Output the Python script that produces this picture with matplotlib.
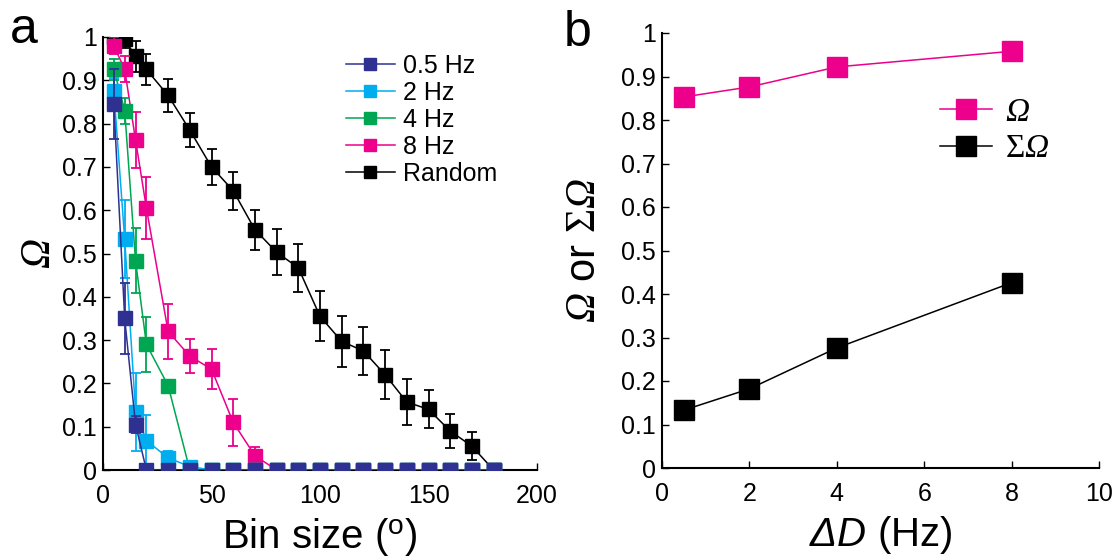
import numpy as np
import matplotlib
matplotlib.use("Agg")
import matplotlib.pyplot as plt
from matplotlib.lines import Line2D

plt.rcParams["font.family"] = ["Liberation Sans", "DejaVu Sans"]
plt.rcParams["mathtext.fontset"] = "custom"
plt.rcParams["mathtext.rm"] = "Liberation Serif:italic"
plt.rcParams["mathtext.it"] = "Liberation Serif:italic"
plt.rcParams["mathtext.sf"] = "Liberation Serif"
plt.rcParams["mathtext.bf"] = "Liberation Sans"
plt.rcParams["mathtext.tt"] = "Liberation Sans:italic"

# panel a data
bins = [5, 10, 15, 20, 30, 40, 50, 60, 70, 80, 90, 100, 110, 120, 130, 140, 150, 160, 170, 180]
omega_05 = [0.845, 0.35, 0.105, 0, 0, 0, 0, 0, 0, 0, 0, 0, 0, 0, 0, 0, 0, 0, 0, 0]
err_05 = [0.08, 0.082, 0.02, 0, 0, 0, 0, 0, 0, 0, 0, 0, 0, 0, 0, 0, 0, 0, 0, 0]
omega_2 = [0.875, 0.533, 0.135, 0.068, 0.028, 0.008, 0, 0, 0, 0, 0, 0, 0, 0, 0, 0, 0, 0, 0, 0]
err_2 = [0.03, 0.09, 0.09, 0.06, 0.015, 0, 0, 0, 0, 0, 0, 0, 0, 0, 0, 0, 0, 0, 0, 0]
omega_4 = [0.925, 0.83, 0.483, 0.29, 0.195, 0, 0, 0, 0, 0, 0, 0, 0, 0, 0, 0, 0, 0, 0, 0]
err_4 = [0.025, 0.03, 0.075, 0.063, 0, 0, 0, 0, 0, 0, 0, 0, 0, 0, 0, 0, 0, 0, 0, 0]
omega_8 = [0.98, 0.925, 0.762, 0.605, 0.32, 0.263, 0.233, 0.11, 0.033, 0, 0, 0, 0, 0, 0, 0, 0, 0, 0, 0]
err_8 = [0.02, 0.03, 0.064, 0.072, 0.064, 0.04, 0.046, 0.055, 0.02, 0, 0, 0, 0, 0, 0, 0, 0, 0, 0, 0]
omega_rand = [1.0, 0.995, 0.955, 0.925, 0.865, 0.785, 0.70, 0.645, 0.555, 0.503, 0.467, 0.355,
              0.297, 0.275, 0.22, 0.157, 0.14, 0.09, 0.055, 0]
err_rand = [0.01, 0.02, 0.035, 0.036, 0.038, 0.04, 0.042, 0.044, 0.046, 0.053, 0.055, 0.058,
            0.058, 0.055, 0.057, 0.053, 0.044, 0.04, 0.032, 0]

labels_a = ["0.5 Hz", "2 Hz", "4 Hz", "8 Hz", "Random"]
colors_a = ["#2E3192", "#00AEEF", "#00A651", "#EC008C", "#000000"]

# panel b data
delta_d = [0.5, 2, 4, 8]
omega_b = [0.853, 0.876, 0.922, 0.958]
sum_omega_b = [0.133, 0.182, 0.276, 0.426]

series = [(omega_05, err_05), (omega_2, err_2), (omega_4, err_4), (omega_8, err_8), (omega_rand, err_rand)]

fig = plt.figure(figsize=(11.15, 5.58), dpi=100)
ax1 = fig.add_axes([103 / 1115, 1 - 470 / 558, 434 / 1115, 433 / 558])
ax2 = fig.add_axes([662 / 1115, 1 - 468 / 558, 437 / 1115, 435 / 558])

x = np.array(bins)
# draw in reverse so 0.5 Hz ends up on top
for i in reversed(range(len(series))):
    y, e = series[i]
    y = np.array(y)
    e = np.array(e)
    z = 2 + (len(series) - i)
    c = colors_a[i]
    m = e > 0
    ax1.errorbar(x[m], y[m], yerr=e[m], fmt="none", ecolor=c, elinewidth=1.3,
                 capsize=3.5, capthick=1.3, zorder=z)
    ax1.plot(x, y, "-s", color=c, lw=1.1, ms=10, mec=c, zorder=z + 0.5)

handles = [Line2D([], [], color=c, marker="s", lw=1.1, ms=9, mec=c) for c in colors_a]
ax1.legend(handles, labels_a, loc="upper left", bbox_to_anchor=(0.525, 0.995), frameon=False,
           fontsize=18, handlelength=1.96, handletextpad=0.32, labelspacing=0.12,
           borderaxespad=0.2)

ax1.set_xlim(0, 200)
ax1.set_ylim(0, 1)
ax1.set_xticks([0, 50, 100, 150, 200])
yt = np.round(np.arange(0, 1.01, 0.1), 1)
ax1.set_yticks(yt)
ax1.set_yticklabels(["0"] + ["%.1f" % v for v in yt[1:-1]] + ["1"])
ax1.set_xlabel(r"Bin size ($^{\mathbf{o}}$)", fontsize=29, labelpad=6)
ax1.set_ylabel(r"$\Omega$", fontsize=30, labelpad=2)

ax2.plot(delta_d, omega_b, "-s", color="#EC008C", lw=1.1, ms=14, mec="#EC008C", label=r"$\Omega$")
ax2.plot(delta_d, sum_omega_b, "-s", color="#000000", lw=1.1, ms=14, mec="#000000",
         label=r"$\mathsf{\Sigma}\Omega$")
ax2.legend(loc="upper left", bbox_to_anchor=(0.568, 0.922), frameon=False, fontsize=24,
           handlelength=1.55, handletextpad=0.4, labelspacing=0.16)
ax2.set_xlim(0, 10)
ax2.set_ylim(0, 1)
ax2.set_xticks([0, 2, 4, 6, 8, 10])
ax2.set_yticks(yt)
ax2.set_yticklabels(["0"] + ["%.1f" % v for v in yt[1:-1]] + ["1"])
ax2.set_xlabel(r"$\mathtt{\Delta D}$ (Hz)", fontsize=29, labelpad=6)
ax2.set_ylabel(r"$\Omega$ or $\mathsf{\Sigma}\Omega$", fontsize=30, labelpad=12)

for ax in (ax1, ax2):
    ax.spines["top"].set_visible(False)
    ax.spines["right"].set_visible(False)
    ax.spines["left"].set_linewidth(1.5)
    ax.spines["bottom"].set_linewidth(1.5)
    ax.tick_params(direction="in", length=5, width=1, labelsize=18)
    ax.tick_params(axis="x", pad=10)
    ax.tick_params(axis="y", pad=4.5)

fig.text(10 / 1115, 1 - 30 / 558, "a", fontsize=36, va="center")
fig.text(564 / 1115, 1 - 33 / 558, "b", fontsize=36, va="center")

fig.savefig("out.png", dpi=100)
